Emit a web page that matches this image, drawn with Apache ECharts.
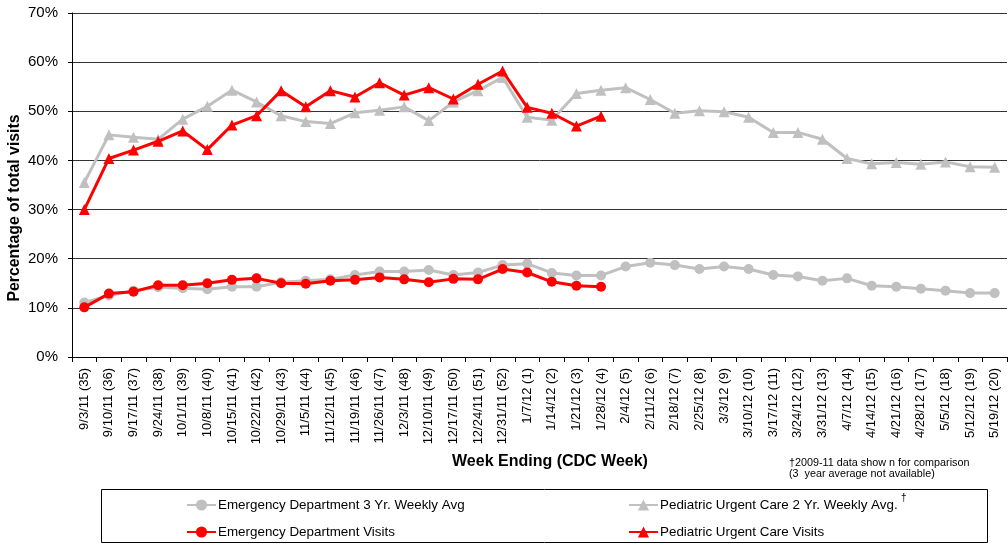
<!DOCTYPE html>
<html><head><meta charset="utf-8">
<script src="https://cdn.jsdelivr.net/npm/echarts@6/dist/echarts.min.js"></script>
<style>html,body{margin:0;padding:0;background:#fff}#c{width:1008px;height:545px}</style>
</head><body><div id="c"></div>
<script>
const categories = ["9/3/11 (35)","9/10/11 (36)","9/17/11 (37)","9/24/11 (38)","10/1/11 (39)","10/8/11 (40)","10/15/11 (41)","10/22/11 (42)","10/29/11 (43)","11/5/11 (44)","11/12/11 (45)","11/19/11 (46)","11/26/11 (47)","12/3/11 (48)","12/10/11 (49)","12/17/11 (50)","12/24/11 (51)","12/31/11 (52)","1/7/12 (1)","1/14/12 (2)","1/21/12 (3)","1/28/12 (4)","2/4/12 (5)","2/11/12 (6)","2/18/12 (7)","2/25/12 (8)","3/3/12 (9)","3/10/12 (10)","3/17/12 (11)","3/24/12 (12)","3/31/12 (13)","4/7/12 (14)","4/14/12 (15)","4/21/12 (16)","4/28/12 (17)","5/5/12 (18)","5/12/12 (19)","5/19/12 (20)"];
const edAvg = [11.1,12.5,13.5,14.2,14.0,13.8,14.3,14.3,15.2,15.5,15.8,16.7,17.4,17.4,17.7,16.7,17.2,18.7,19.0,17.1,16.6,16.6,18.4,19.2,18.7,17.9,18.4,17.9,16.7,16.4,15.5,16.0,14.5,14.3,13.9,13.5,13.0,13.0];
const pucAvg = [35.5,45.2,44.7,44.3,48.4,51.0,54.3,51.9,49.1,47.9,47.5,49.7,50.2,50.9,48.1,51.9,54.2,56.9,48.8,48.2,53.6,54.3,54.8,52.4,49.6,50.1,49.9,48.8,45.7,45.7,44.3,40.4,39.3,39.6,39.2,39.7,38.7,38.6];
const edVisits = [10.1,12.9,13.3,14.6,14.6,15.0,15.7,16.0,15.0,14.9,15.5,15.7,16.2,15.8,15.2,15.9,15.8,17.9,17.2,15.3,14.5,14.3];
const pucVisits = [30.0,40.4,42.1,43.9,46.0,42.2,47.2,49.1,54.2,50.9,54.2,52.9,55.8,53.3,54.8,52.5,55.5,58.2,50.8,49.6,47.0,49.0];
const yTicks = [0,10,20,30,40,50,60,70];

const FONT = 'Liberation Sans, Arial, sans-serif';
const GRAY = '#c0c0c0', RED = '#ff0000';
const chart = echarts.init(document.getElementById('c'));
const names = ["Emergency Department 3 Yr. Weekly Avg","Pediatric Urgent Care 2 Yr. Weekly Avg.","Emergency Department Visits","Pediatric Urgent Care Visits"];
function line(name, data, color, symbol, size) {
  return {name, type:'line', data, symbol, symbolSize:size, showSymbol:true,
    lineStyle:{color, width:3}, itemStyle:{color}, z: color===RED?3:2, animation:false};
}
const legendText = {fontSize:13.4, color:'#000', fontFamily:FONT, padding:[0,0,0,-3], lineHeight:14};
chart.setOption({
  animation:false,
  textStyle:{fontFamily:FONT},
  grid:{left:72, right:1, top:13, bottom:188, containLabel:false, outerBoundsMode:'none'},
  xAxis:{type:'category', data:categories, boundaryGap:true,
    axisLine:{lineStyle:{color:'#000', width:1}},
    axisTick:{show:true, length:5, lineStyle:{color:'#000'}},
    axisLabel:{rotate:90, interval:0, fontSize:13, color:'#000', fontFamily:FONT, margin:11}},
  yAxis:{type:'value', min:yTicks[0], max:yTicks[yTicks.length-1], interval:10,
    axisLine:{show:true, lineStyle:{color:'#000'}},
    axisTick:{show:true, length:4, lineStyle:{color:'#000'}},
    axisLabel:{formatter:'{value}%', fontSize:15, color:'#000', fontFamily:FONT, margin:14},
    splitLine:{lineStyle:{color:'#333', width:1}}},
  legend:[
    {data:[names[0],names[2]], orient:'vertical', left:186, top:498, height:45, padding:0, itemGap:13, itemWidth:29, itemHeight:14,
     itemStyle:{}, textStyle:legendText},
    {data:[names[1],names[3]], orient:'vertical', left:628, top:498, height:45, padding:0, itemGap:13, itemWidth:29, itemHeight:14,
     textStyle:legendText}
  ],
  graphic:[
    {type:'rect', shape:{x:101.5, y:489.5, width:886, height:53}, style:{fill:'none', stroke:'#000', lineWidth:1}, z:-1},
    {type:'text', x:15, y:208, rotation:Math.PI/2, style:{text:'Percentage of total visits', x:0, y:0, textAlign:'center', textVerticalAlign:'middle', font:'bold 15.8px '+FONT, fill:'#000'}},
    {type:'text', style:{text:'Week Ending (CDC Week)', x:550, y:462, textAlign:'center', textVerticalAlign:'middle', font:'bold 16px '+FONT, fill:'#000'}},
    {type:'text', style:{text:'†2009-11 data show n for comparison', x:789, y:463, textVerticalAlign:'middle', font:'10.8px '+FONT, fill:'#000'}},
    {type:'text', style:{text:'(3  year average not available)', x:789, y:474, textVerticalAlign:'middle', font:'10.8px '+FONT, fill:'#000'}},
    {type:'text', style:{text:'†', x:901, y:498, textVerticalAlign:'middle', font:'10px '+FONT, fill:'#000'}}
  ],
  series:[
    line(names[0], edAvg, GRAY, 'circle', 10),
    line(names[1], pucAvg, GRAY, 'triangle', 11),
    line(names[2], edVisits, RED, 'circle', 10),
    line(names[3], pucVisits, RED, 'triangle', 11)
  ]
});
</script></body></html>
